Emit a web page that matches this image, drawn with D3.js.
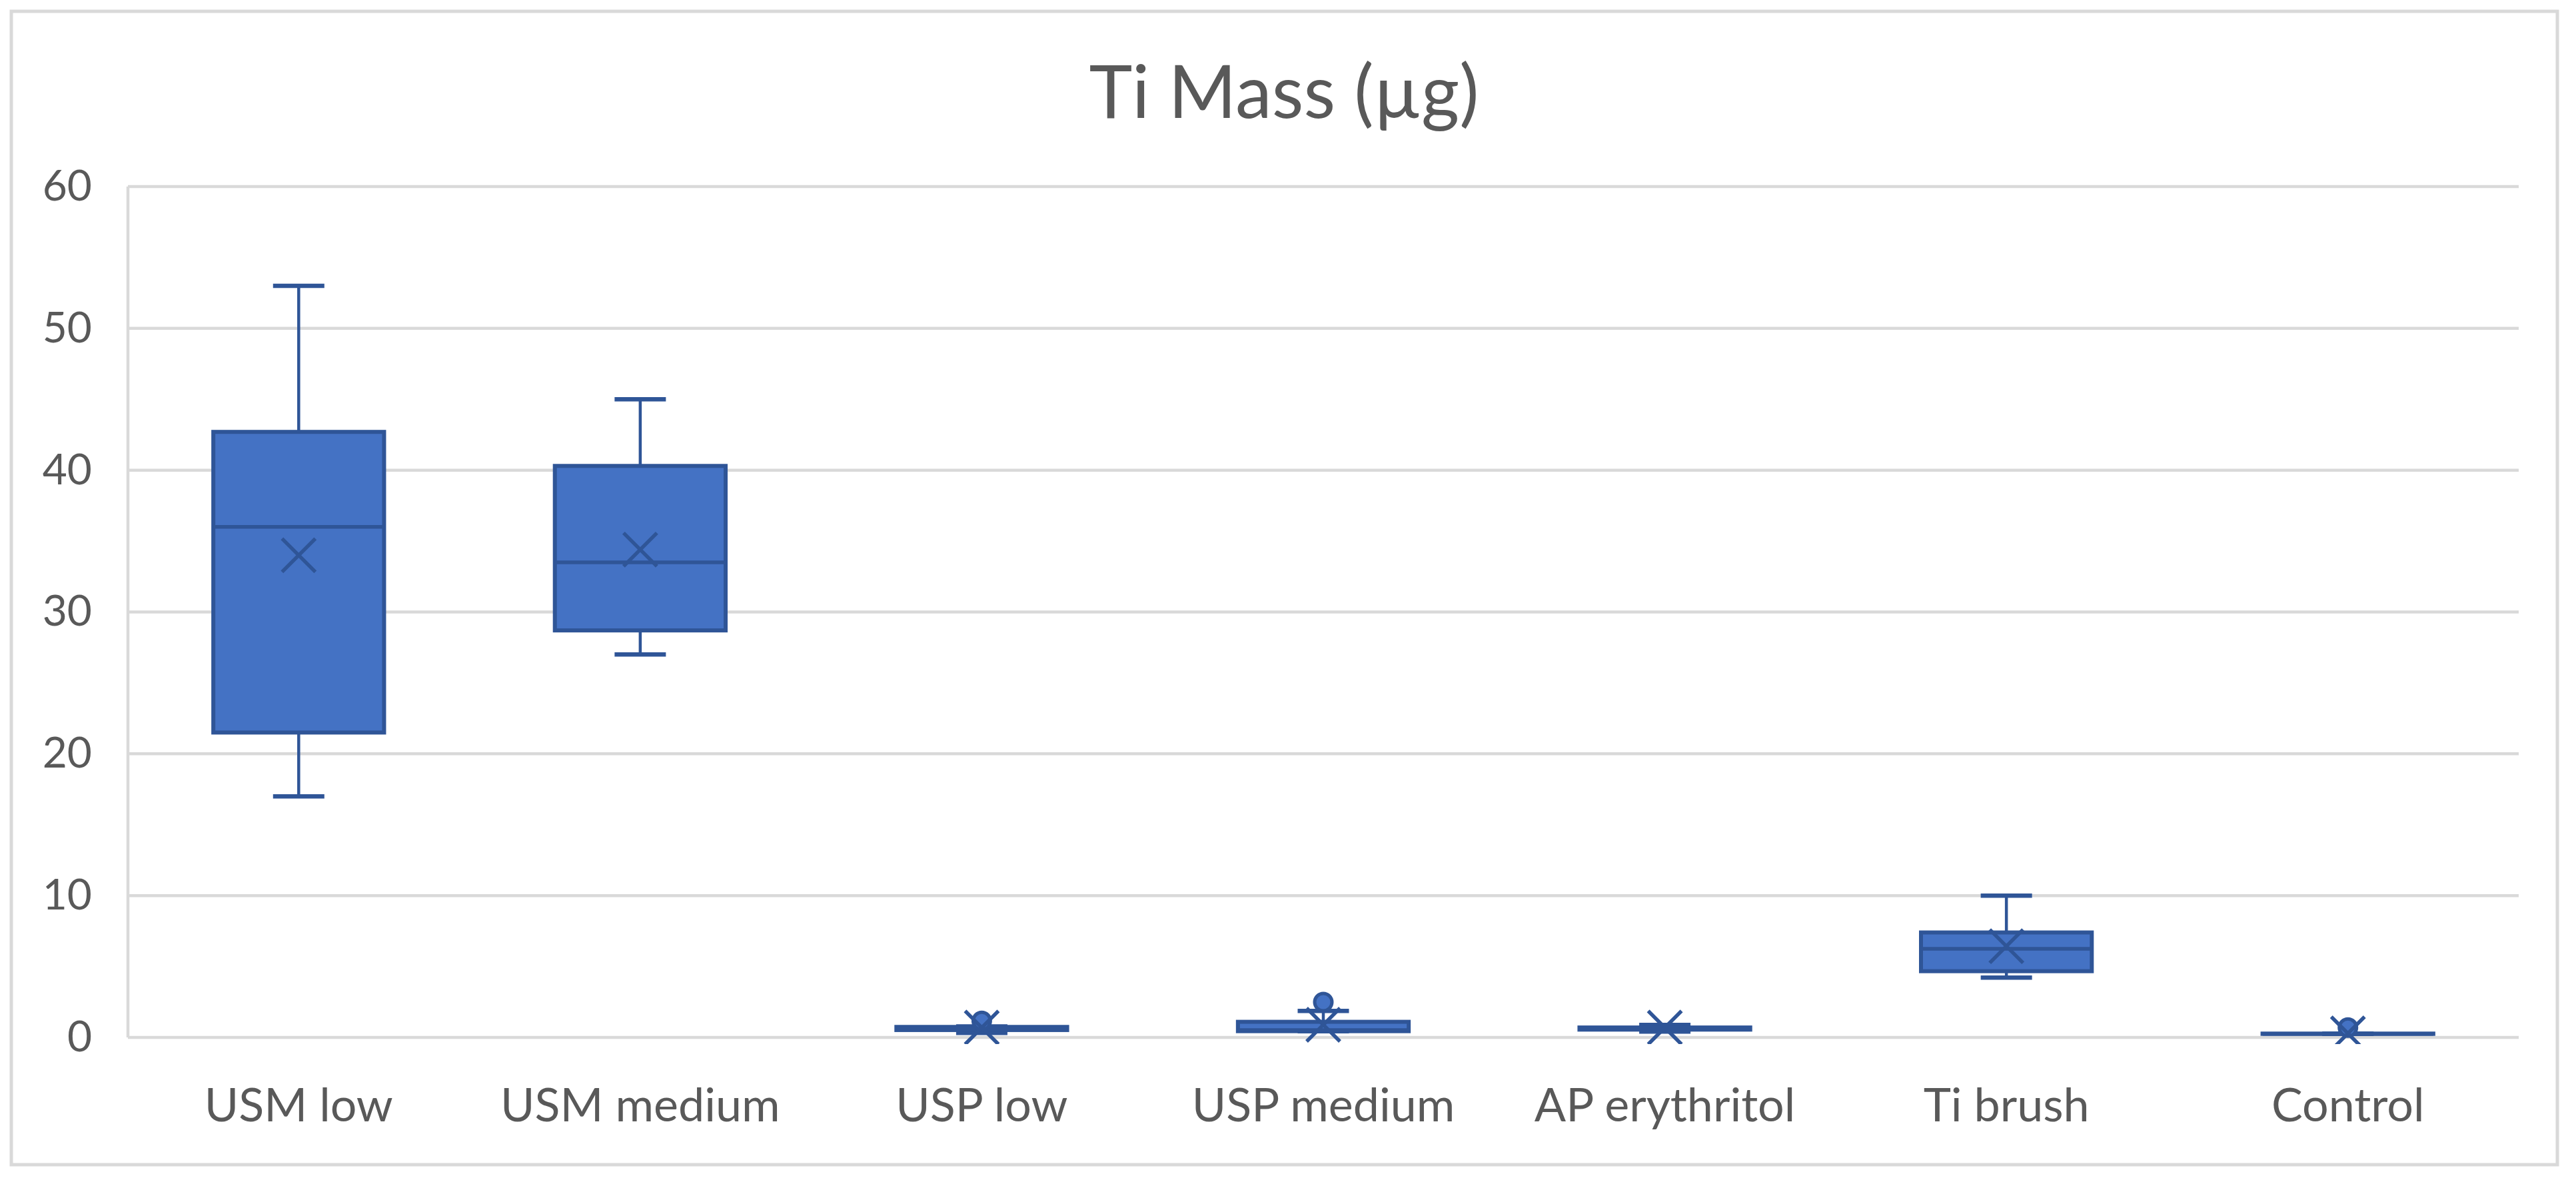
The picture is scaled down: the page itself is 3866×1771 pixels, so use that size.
<!DOCTYPE html>
<html>
<head>
<meta charset="utf-8">
<script src="https://cdn.jsdelivr.net/npm/d3@7"></script>
<style>
  html, body { margin: 0; padding: 0; background: #ffffff; }
  svg { display: block; }
</style>
</head>
<body>
<script>
// ---- data ----
const categories = ["USM low", "USM medium", "USP low", "USP medium", "AP erythritol", "Ti brush", "Control"];
const mins     = [17.0, 27.0, 0.32, 0.44, 0.41, 4.22, 0.25];
const q1s      = [21.5, 28.7, 0.52, 0.44, 0.55, 4.67, 0.25];
const medians  = [36.0, 33.5, 0.65, 0.52, 0.62, 6.25, 0.25];
const q3s      = [42.7, 40.3, 0.74, 1.10, 0.70, 7.40, 0.27];
const maxs     = [53.0, 45.0, 0.78, 1.87, 0.88, 10.0, 0.27];
const means    = [34.0, 34.4, 0.69, 0.89, 0.69, 6.43, 0.28];
const outliers = [[], [], [1.16], [2.49], [], [], [0.69]];
const yTicks   = [0, 10, 20, 30, 40, 50, 60];
const titleText = "Ti Mass (µg)";

// ---- layout ----
const W = 3866, H = 1771;
const plot = { left: 192, right: 3780, top: 280, bottom: 1557 };
const fill = "#4472C4", dark = "#2F5597", grid = "#D9D9D9", textCol = "#595959";
const font = "Lato, 'Open Sans', sans-serif";

const svg = d3.select("body").append("svg").attr("width", W).attr("height", H);

// chart border
svg.append("rect").attr("x", 17).attr("y", 17).attr("width", 3821).attr("height", 1731)
  .attr("fill", "#fff").attr("stroke", grid).attr("stroke-width", 5);

const x = d3.scaleBand().domain(categories).range([plot.left, plot.right]).padding(0);
const y = d3.scaleLinear().domain([0, 60]).range([plot.bottom, plot.top]);

// gridlines
svg.append("g").selectAll("line").data(yTicks).join("line")
  .attr("x1", plot.left).attr("x2", plot.right)
  .attr("y1", d => y(d)).attr("y2", d => y(d))
  .attr("stroke", grid).attr("stroke-width", 4.5);
// left axis line
svg.append("line").attr("x1", plot.left).attr("x2", plot.left)
  .attr("y1", y(60)).attr("y2", y(0)).attr("stroke", grid).attr("stroke-width", 4.5);

// y axis labels
const ya = svg.append("g").attr("transform", `translate(${plot.left},0)`)
  .call(d3.axisLeft(y).tickValues(yTicks).tickSize(0).tickPadding(54).tickFormat(d3.format("d")));
ya.select(".domain").remove();
ya.selectAll("text").attr("font-family", font).attr("font-size", 64).attr("fill", textCol);

// x axis labels
const xa = svg.append("g").attr("transform", `translate(0,${plot.bottom})`)
  .call(d3.axisBottom(x).tickSize(0).tickPadding(76));
xa.select(".domain").remove();
xa.selectAll("text").attr("font-family", font).attr("font-size", 70).attr("fill", textCol);

// title
svg.append("text").attr("x", 1927).attr("y", 177).attr("text-anchor", "middle")
  .attr("font-family", font).attr("font-size", 110).attr("fill", textCol).text(titleText);

// clip for markers
svg.append("clipPath").attr("id", "pclip").append("rect")
  .attr("x", plot.left).attr("y", plot.top - 40)
  .attr("width", plot.right - plot.left).attr("height", plot.bottom - plot.top + 50);

const boxW = x.bandwidth() * 0.5;
const capW = 77;
const g = svg.append("g").attr("clip-path", "url(#pclip)");

categories.forEach((c, i) => {
  const cx = x(c) + x.bandwidth() / 2;
  const gg = g.append("g");
  // whiskers
  gg.append("line").attr("x1", cx).attr("x2", cx).attr("y1", y(maxs[i])).attr("y2", y(q3s[i]))
    .attr("stroke", dark).attr("stroke-width", 4.5);
  gg.append("line").attr("x1", cx).attr("x2", cx).attr("y1", y(q1s[i])).attr("y2", y(mins[i]))
    .attr("stroke", dark).attr("stroke-width", 4.5);
  [maxs[i], mins[i]].forEach(v => {
    gg.append("line").attr("x1", cx - capW / 2).attr("x2", cx + capW / 2)
      .attr("y1", y(v)).attr("y2", y(v)).attr("stroke", dark).attr("stroke-width", 6.5);
  });
  // box
  gg.append("rect").attr("x", cx - boxW / 2).attr("width", boxW)
    .attr("y", y(q3s[i])).attr("height", Math.max(0, y(q1s[i]) - y(q3s[i])))
    .attr("fill", fill).attr("stroke", dark).attr("stroke-width", 6);
  // median
  gg.append("line").attr("x1", cx - boxW / 2).attr("x2", cx + boxW / 2)
    .attr("y1", y(medians[i])).attr("y2", y(medians[i]))
    .attr("stroke", dark).attr("stroke-width", 5.5);
  // outliers
  outliers[i].forEach(v => {
    gg.append("circle").attr("cx", cx).attr("cy", y(v)).attr("r", 13)
      .attr("fill", fill).attr("stroke", dark).attr("stroke-width", 5);
  });
  // mean marker X
  const s = 25, my = y(means[i]);
  gg.append("path")
    .attr("d", `M${cx - s},${my - s}L${cx + s},${my + s}M${cx + s},${my - s}L${cx - s},${my + s}`)
    .attr("stroke", dark).attr("stroke-width", 5.5).attr("fill", "none");
});
</script>
</body>
</html>
